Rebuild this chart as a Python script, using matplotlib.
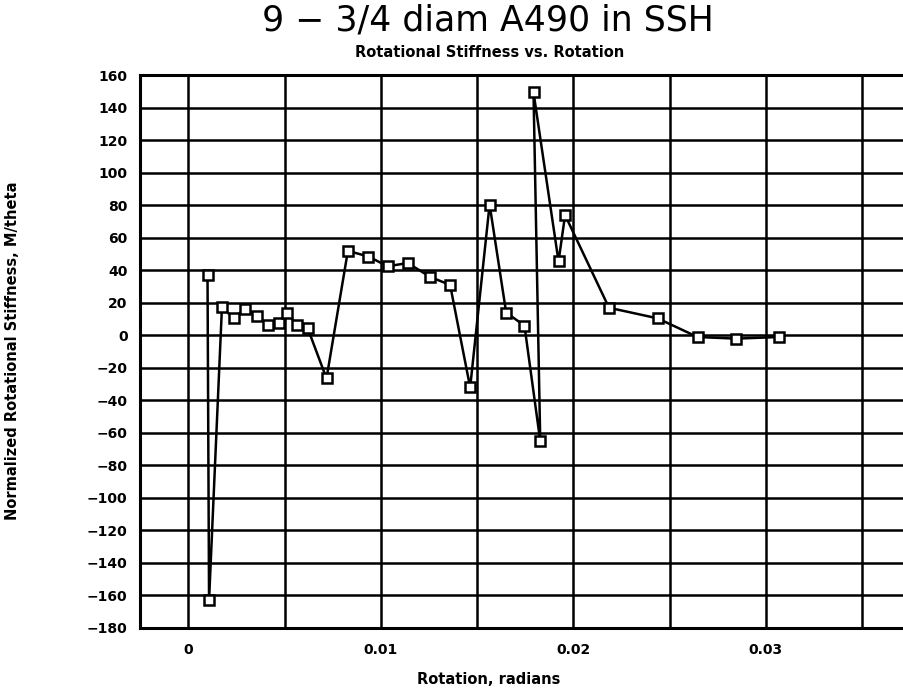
import matplotlib
matplotlib.use("Agg")
import matplotlib.pyplot as plt
from matplotlib.ticker import MultipleLocator, FixedLocator, FixedFormatter

# rotation (radians) and normalized rotational stiffness, in test order
rotation = [0.00100, 0.00108, 0.00175, 0.00235, 0.00296, 0.00357, 0.00414,
            0.00469, 0.00512, 0.00564, 0.00620, 0.00718, 0.00829, 0.00936,
            0.01035, 0.01140, 0.01256, 0.01360, 0.01464, 0.01565, 0.01651,
            0.01746, 0.01828, 0.01793, 0.01923, 0.01957, 0.02185, 0.02437,
            0.02645, 0.02845, 0.03069]
stiffness = [37, -163, 17.5, 10.5, 16.5, 12, 6.5,
             7.5, 14, 6.5, 4.5, -26.5, 52, 48.5,
             42.5, 44.5, 36, 31, -32, 80.5, 14,
             6, -65, 149.5, 45.5, 74, 17, 10.5,
             -1, -2, -1]

x_labels = ["0", "0.01", "0.02", "0.03"]
x_label_pos = [0.0, 0.01, 0.02, 0.03]

plt.rcParams['font.family'] = ['DejaVu Sans']

fig = plt.figure(figsize=(9.04, 6.97), dpi=100)
ax = fig.add_axes([0.155, 0.099, 0.852, 0.793])

ax.plot(rotation, stiffness, color='black', lw=1.8, marker='s', ms=6.5,
        mfc='white', mec='black', mew=1.8, zorder=3)

ax.set_xlim(-0.0025, 0.0375)
ax.set_ylim(-180, 160)

ax.xaxis.set_major_locator(FixedLocator(x_label_pos))
ax.xaxis.set_major_formatter(FixedFormatter(x_labels))
ax.xaxis.set_minor_locator(MultipleLocator(0.005))
ax.yaxis.set_major_locator(MultipleLocator(20))

ax.grid(True, which='both', color='black', lw=1.8)
ax.set_axisbelow(True)
ax.tick_params(which='both', length=0)
ax.tick_params(axis='x', pad=11, labelsize=10)
ax.tick_params(axis='y', pad=9, labelsize=10)
for lbl in ax.get_xticklabels() + ax.get_yticklabels():
    lbl.set_fontweight('bold')

for side in ['left', 'bottom', 'top', 'right']:
    ax.spines[side].set_linewidth(2.2)

fig.text(0.541, 0.025, "Rotation, radians", ha='center', va='center',
         fontsize=10.5, fontweight='bold')
fig.text(0.014, 0.497, "Normalized Rotational Stiffness, M/theta", ha='center',
         va='center', rotation=90, fontsize=10.5, fontweight='bold')

fig.text(0.54, 0.971, "9 \u2212 3/4 diam A490 in SSH", ha='center', va='center',
         fontsize=25)
fig.text(0.542, 0.925, "Rotational Stiffness vs. Rotation", ha='center',
         va='center', fontsize=10.5, fontweight='bold')

fig.savefig("out.png", dpi=100)
